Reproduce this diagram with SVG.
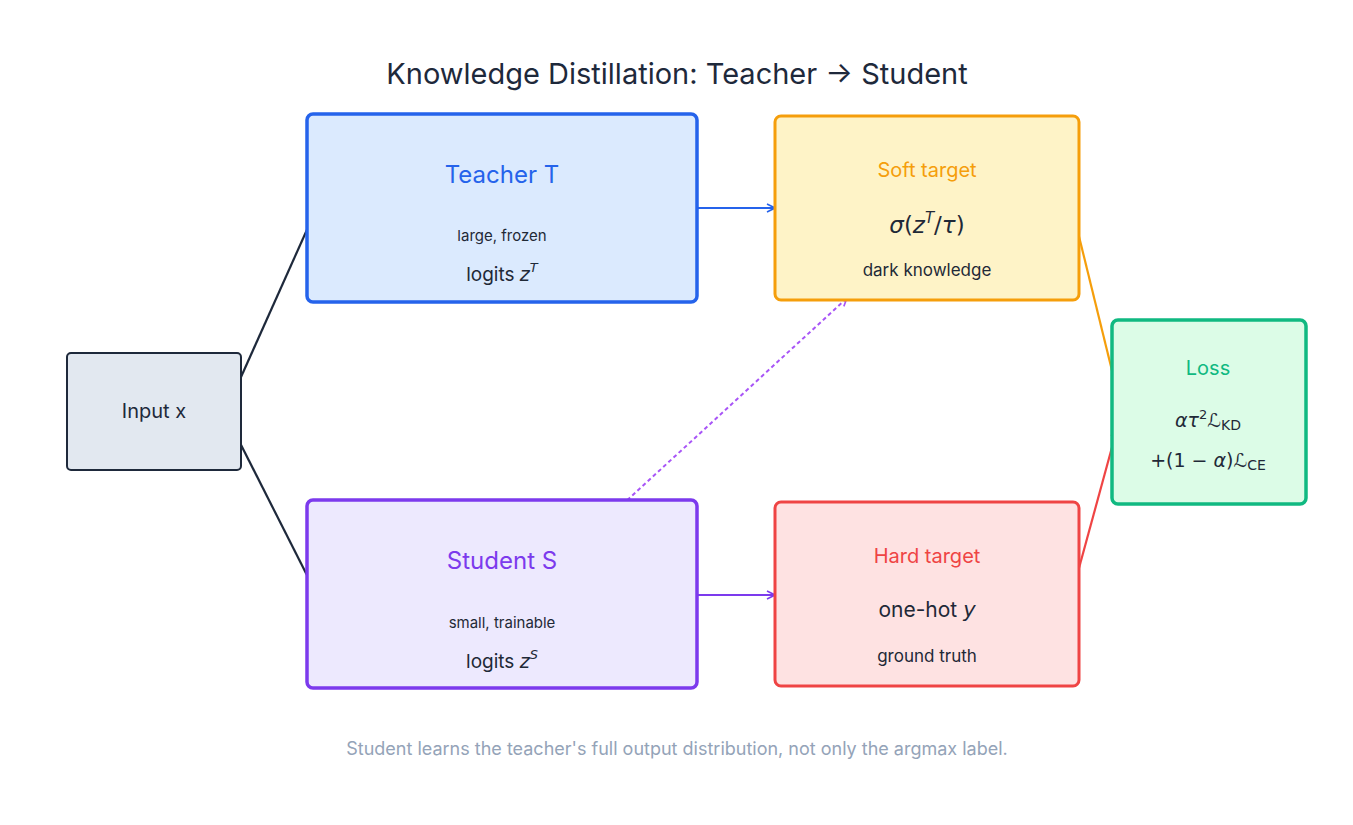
<svg xmlns="http://www.w3.org/2000/svg" width="1353" height="825" viewBox="0 0 1353 825">
<style>
text{font-family:Inter,"Liberation Sans",sans-serif;text-anchor:middle}
.m{font-family:"DejaVu Sans","Noto Sans",sans-serif}
.i{font-style:italic}
.sub{font-size:15px;fill:#1f2937}
</style>
<defs>
<marker id="ak" viewBox="0 0 10 10" refX="9" refY="5" markerWidth="10" markerHeight="10" markerUnits="userSpaceOnUse" orient="auto"><path d="M1,1 L9,5 L1,9" fill="none" stroke="#1e293b" stroke-width="1.6"/></marker>
<marker id="ab" viewBox="0 0 10 10" refX="9" refY="5" markerWidth="10" markerHeight="10" markerUnits="userSpaceOnUse" orient="auto"><path d="M1,1 L9,5 L1,9" fill="none" stroke="#2563eb" stroke-width="1.6"/></marker>
<marker id="ap" viewBox="0 0 10 10" refX="9" refY="5" markerWidth="10" markerHeight="10" markerUnits="userSpaceOnUse" orient="auto"><path d="M1,1 L9,5 L1,9" fill="none" stroke="#7c3aed" stroke-width="1.6"/></marker>
<marker id="al" viewBox="0 0 10 10" refX="9" refY="5" markerWidth="10" markerHeight="10" markerUnits="userSpaceOnUse" orient="auto"><path d="M1,1 L9,5 L1,9" fill="none" stroke="#a855f7" stroke-width="1.6"/></marker>
<marker id="ao" viewBox="0 0 10 10" refX="9" refY="5" markerWidth="10" markerHeight="10" markerUnits="userSpaceOnUse" orient="auto"><path d="M1,1 L9,5 L1,9" fill="none" stroke="#f59e0b" stroke-width="1.6"/></marker>
<marker id="ar" viewBox="0 0 10 10" refX="9" refY="5" markerWidth="10" markerHeight="10" markerUnits="userSpaceOnUse" orient="auto"><path d="M1,1 L9,5 L1,9" fill="none" stroke="#ef4444" stroke-width="1.6"/></marker>
</defs>
<rect width="1353" height="825" fill="#fff"/>
<text x="677" y="84" font-size="29" fill="#1e293b">Knowledge Distillation: Teacher  -&gt;  Student</text>
<g id="connectors" fill="none" stroke-width="2.2">
<line x1="237" y1="386" x2="314" y2="214" stroke="#1e293b" marker-end="url(#ak)"/>
<line x1="237" y1="437" x2="314" y2="589" stroke="#1e293b" marker-end="url(#ak)"/>
<line x1="692" y1="208" x2="775" y2="208" stroke="#2563eb" marker-end="url(#ab)"/>
<line x1="692" y1="595" x2="775" y2="595" stroke="#7c3aed" marker-end="url(#ap)"/>
<line x1="622" y1="505" x2="847" y2="298" stroke="#a855f7" stroke-width="2" stroke-dasharray="4,3" marker-end="url(#al)"/>
<line x1="1073" y1="212" x2="1118" y2="395" stroke="#f59e0b" marker-end="url(#ao)"/>
<line x1="1073" y1="590" x2="1117" y2="429" stroke="#ef4444" marker-end="url(#ar)"/>
</g>
<g id="input"><rect x="67" y="353" width="174" height="117" rx="4" fill="#e2e8f0" stroke="#1e293b" stroke-width="2"/><text x="154" y="418" font-size="20" fill="#1e293b">Input x</text></g>
<g id="teacher"><rect x="307" y="114" width="390" height="188" rx="6" fill="#dbeafe" stroke="#2563eb" stroke-width="3.5"/>
<text x="502" y="183" font-size="24" fill="#2563eb">Teacher  T</text>
<text x="502" y="241" class="sub" font-size="18">large, frozen</text>
<text x="502" y="281" font-size="19" fill="#1f2937">logits  <tspan class="m i">z</tspan><tspan class="m i" font-size="13" dy="-9">T</tspan></text></g>
<g id="student"><rect x="307" y="500" width="390" height="188" rx="6" fill="#ede9fe" stroke="#7c3aed" stroke-width="3.5"/>
<text x="502" y="569" font-size="24" fill="#7c3aed">Student  S</text>
<text x="502" y="628" class="sub" font-size="18">small, trainable</text>
<text x="502" y="668" font-size="19" fill="#1f2937">logits  <tspan class="m i">z</tspan><tspan class="m i" font-size="13" dy="-9">S</tspan></text></g>
<g id="soft"><rect x="775" y="116" width="304" height="184" rx="6" fill="#fef3c7" stroke="#f59e0b" stroke-width="3"/>
<text x="927" y="177" font-size="20" fill="#f59e0b">Soft target</text>
<text x="927" y="233" class="m" font-size="23" fill="#1f2937"><tspan class="i">σ</tspan>(<tspan class="i">z</tspan><tspan class="i" font-size="15" dy="-10">T</tspan><tspan dy="10">/</tspan><tspan class="i">τ</tspan>)</text>
<text x="927" y="276" font-size="17" fill="#1f2937">dark knowledge</text></g>
<g id="hard"><rect x="775" y="502" width="304" height="184" rx="6" fill="#fee2e2" stroke="#ef4444" stroke-width="3"/>
<text x="927" y="563" font-size="20" fill="#ef4444">Hard target</text>
<text x="927" y="617" font-size="21" fill="#1f2937">one-hot  <tspan class="m i">y</tspan></text>
<text x="927" y="662" font-size="17" fill="#1f2937">ground truth</text></g>
<g id="loss"><rect x="1112" y="320" width="194" height="184" rx="6" fill="#dcfce7" stroke="#10b981" stroke-width="3.5"/>
<text x="1208" y="375" font-size="20" fill="#10b981">Loss</text>
<text x="1208" y="427" class="m" font-size="19" fill="#1f2937"><tspan class="i">ατ</tspan><tspan font-size="13" dy="-8">2</tspan><tspan class="i" dy="8">ℒ</tspan><tspan font-size="14" dy="3">KD</tspan></text>
<text x="1208" y="467" class="m" font-size="19" fill="#1f2937">+(1 − <tspan class="i">α</tspan>)<tspan class="i">ℒ</tspan><tspan font-size="14" dy="3">CE</tspan></text></g>
<text x="677" y="755" font-size="18" fill="#94a3b8">Student learns the teacher's full output distribution, not only the argmax label.</text>
</svg>
